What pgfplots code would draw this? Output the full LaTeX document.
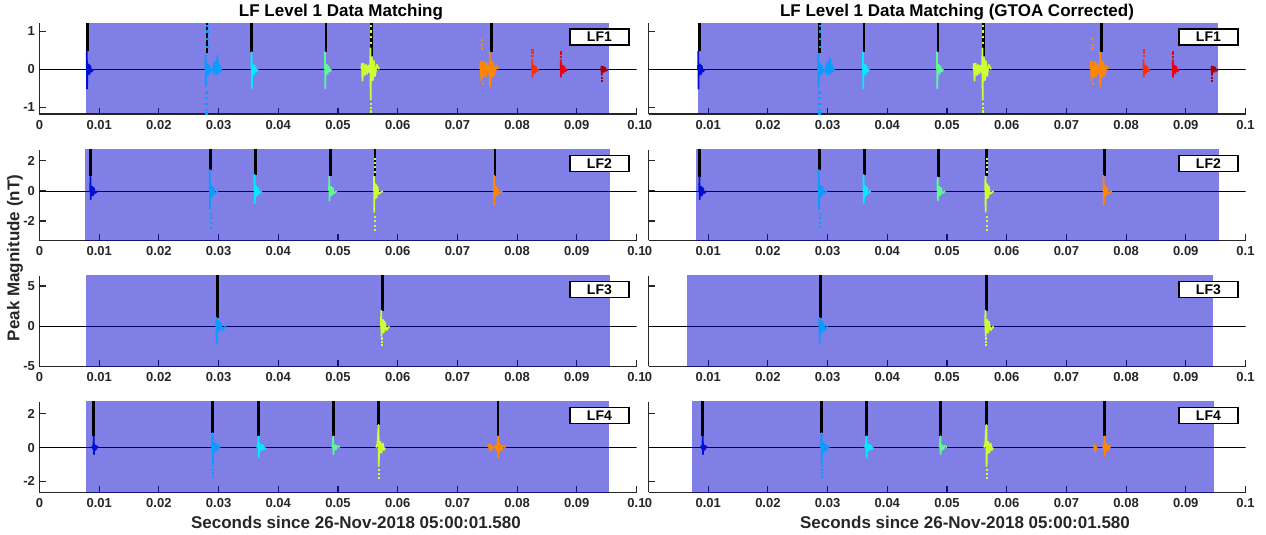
\documentclass[border=0pt]{standalone}
\usepackage{fontspec}
\setmainfont{Liberation Sans}
\usepackage{pgfplots}
\pgfplotsset{compat=1.18}
\definecolor{axgray}{RGB}{38,38,38}
\definecolor{patchblue}{RGB}{0,0,205}
\definecolor{jblue}{RGB}{0,15,215}
\definecolor{jlb}{RGB}{10,155,255}
\definecolor{jcyan}{RGB}{0,235,255}
\definecolor{jgreen}{RGB}{95,250,145}
\definecolor{jyg}{RGB}{205,255,50}
\definecolor{jorange}{RGB}{255,135,0}
\definecolor{jro}{RGB}{255,45,0}
\definecolor{jred}{RGB}{235,0,15}
\definecolor{jdred}{RGB}{170,0,10}
\tikzset{lfbox/.style={draw=black, line width=1.2pt, fill=white, minimum width=59pt, minimum height=16pt, inner sep=0pt, anchor=north east, xshift=-7pt, yshift=-5pt, font=\fontsize{14}{16}\selectfont\bfseries}}
\pgfplotsset{
  panel/.style={scale only axis, width=597pt, height=90.5pt, anchor=south west,
    xmin=0, xmax=0.1, axis x line=bottom, axis y line=left,
    axis line style={-, line width=1.2pt, color=axgray},
    tick align=inside, major tick length=6pt,
    tick style={line width=1.1pt, color=axgray},
    xtick={0,0.01,0.02,0.03,0.04,0.05,0.06,0.07,0.08,0.09,0.1},
    xticklabels={0,0.01,0.02,0.03,0.04,0.05,0.06,0.07,0.08,0.09,0.1},
    ticklabel style={font=\fontsize{13}{15}\selectfont\bfseries, color=axgray},
    xticklabel style={yshift=-2.5pt},
    yticklabel style={xshift=-1pt},
  },
  rpanel/.style={panel, yticklabels={}},
  zline/.style={black, line width=0.8pt},
  bpatch/.style={fill=patchblue, fill opacity=0.5, draw=none},
  spike/.style={black, line width=2.8pt},
  burst/.style={line width=1.7pt, line join=round},
  dots/.style={only marks, mark=square*, mark size=0.65pt},
}
\begin{document}
\begin{tikzpicture}
\useasboundingbox (0,0) rectangle (1266pt,535pt);
% ================= ROW 1 LEFT =================
\begin{axis}[panel, at={(39.5pt,421pt)}, ymin=-1.17, ymax=1.2, ytick={-1,0,1}, yticklabels={-1,0,1}]
\addplot[zline] coordinates {(0,0)(0.1,0)};
\addplot[bpatch] coordinates {(0.00782,-5)(0.00782,5)(0.09538,5)(0.09538,-5)};
\addplot[spike] coordinates {(0.00804,0.47)(0.00804,5)};
\addplot[spike] coordinates {(0.02804,0.42)(0.02804,5)};
\addplot[spike] coordinates {(0.03557,0.45)(0.03557,5)};
\addplot[spike] coordinates {(0.0480,0.45)(0.0480,5)};
\addplot[spike] coordinates {(0.0556,0.35)(0.0556,5)};
\addplot[spike] coordinates {(0.0757,0.45)(0.0757,5)};
\addplot[burst, jblue] coordinates {(0.0079,0)(0.00793,0.47)(0.00797,-0.51)(0.00803,0.13)(0.00812,-0.13)(0.00824,0.13)(0.00837,-0.13)(0.0085,0.09)(0.0087,-0.065)(0.009,0)};
\addplot[burst, jlb] coordinates {(0.0278,0)(0.02783,0.4)(0.02787,-0.45)(0.02793,0.15)(0.02802,-0.15)(0.02814,0.15)(0.02827,-0.15)(0.0284,0.1)(0.0286,-0.07)(0.0289,0)(0.0291,0)(0.02915,0.12)(0.0292,-0.12)(0.0294,0.2)(0.0296,-0.15)(0.0298,0.36)(0.03,-0.12)(0.0302,0.1)(0.0304,-0.05)(0.0305,0)};
\addplot[dots, jlb] coordinates {(0.0281,0.6)(0.0281,0.8)(0.0281,1.0)(0.0281,1.15)(0.0279,-0.6)(0.0279,-0.75)(0.0279,-0.9)(0.0279,-1.05)(0.0279,-1.15)};
\addplot[burst, jcyan] coordinates {(0.0355,0)(0.03553,0.45)(0.03557,-0.5)(0.03563,0.13)(0.03572,-0.13)(0.03584,0.13)(0.03597,-0.13)(0.0361,0.09)(0.0363,-0.065)(0.0366,0)};
\addplot[burst, jgreen] coordinates {(0.0478,0)(0.04783,0.45)(0.04787,-0.5)(0.04793,0.12)(0.04802,-0.12)(0.04814,0.12)(0.04827,-0.12)(0.0484,0.08)(0.0486,-0.06)(0.0489,0)};
\addplot[burst, jyg] coordinates {(0.0539,0)(0.054,0.15)(0.0541,-0.3)(0.0543,0.15)(0.0545,-0.15)(0.0547,0.12)(0.0549,-0.12)(0.0551,0.1)(0.0553,-0.08)(0.0554,0)(0.05543,0.55)(0.05547,-0.8)(0.05553,0.3)(0.0556,-0.3)(0.0557,0.3)(0.05585,-0.28)(0.056,0.22)(0.0562,-0.18)(0.0565,0.12)(0.0569,0)};
\addplot[dots, jyg] coordinates {(0.0555,0.7)(0.0555,0.85)(0.0555,1.0)(0.0555,1.15)(0.0555,-0.9)(0.0555,-1.0)(0.0555,-1.1)};
\addplot[burst, jorange] coordinates {(0.0738,0)(0.0739,0.2)(0.074,-0.3)(0.0742,0.2)(0.0744,-0.2)(0.0746,0.2)(0.0748,-0.18)(0.075,0.15)(0.0752,-0.1)(0.0754,0)(0.07543,0.45)(0.07547,-0.45)(0.07553,0.22)(0.0756,-0.22)(0.0757,0.22)(0.07585,-0.2)(0.076,0.18)(0.0762,-0.15)(0.0765,0.1)(0.0768,0)};
\addplot[dots, jorange] coordinates {(0.0741,0.55)(0.0741,0.65)(0.0741,0.78)(0.0742,-0.38)};
\addplot[burst, jro] coordinates {(0.0825,0)(0.08253,0.25)(0.08257,-0.2)(0.08263,0.1)(0.08272,-0.1)(0.08284,0.1)(0.08297,-0.1)(0.0831,0.07)(0.0833,-0.05)(0.0836,0)};
\addplot[dots, jro] coordinates {(0.08255,0.35)(0.08255,0.45)(0.08255,0.52)};
\addplot[burst, jred] coordinates {(0.0873,0)(0.08733,0.25)(0.08737,-0.2)(0.08743,0.1)(0.08752,-0.1)(0.08764,0.1)(0.08777,-0.1)(0.0879,0.07)(0.0881,-0.05)(0.0884,0)};
\addplot[dots, jred] coordinates {(0.08735,0.33)(0.08735,0.4)(0.08735,0.47)};
\addplot[burst, jdred] coordinates {(0.0941,0)(0.09413,0.08)(0.09417,-0.15)(0.09423,0.07)(0.09432,-0.07)(0.09444,0.07)(0.09457,-0.07)(0.0947,0.05)(0.0949,-0.04)(0.0952,0)};
\addplot[dots, jdred] coordinates {(0.09415,-0.22)(0.09415,-0.3)};
\node[lfbox] at (rel axis cs:1,1) {LF1};
\end{axis}
% ================= ROW 1 RIGHT =================
\begin{axis}[rpanel, at={(648.5pt,421pt)}, ymin=-1.17, ymax=1.2, ytick={-1,0,1}]
\addplot[zline] coordinates {(0,0)(0.1,0)};
\addplot[bpatch] coordinates {(0.00833,-5)(0.00833,5)(0.09547,5)(0.09547,-5)};
\addplot[spike] coordinates {(0.0085,0.47)(0.0085,5)};
\addplot[spike] coordinates {(0.0287,0.42)(0.0287,5)};
\addplot[spike] coordinates {(0.0361,0.45)(0.0361,5)};
\addplot[spike] coordinates {(0.0485,0.45)(0.0485,5)};
\addplot[spike] coordinates {(0.0561,0.35)(0.0561,5)};
\addplot[spike] coordinates {(0.0759,0.45)(0.0759,5)};
\addplot[burst, jblue] coordinates {(0.0083,0)(0.00833,0.47)(0.00837,-0.51)(0.00843,0.13)(0.00852,-0.13)(0.00864,0.13)(0.00877,-0.13)(0.0089,0.09)(0.0091,-0.065)(0.0094,0)};
\addplot[burst, jlb] coordinates {(0.0284,0)(0.02843,0.4)(0.02847,-0.45)(0.02853,0.15)(0.02862,-0.15)(0.02874,0.15)(0.02887,-0.15)(0.029,0.1)(0.0292,-0.07)(0.0295,0)(0.0297,0)(0.02975,0.12)(0.0298,-0.12)(0.03,0.2)(0.0302,-0.15)(0.0304,0.3)(0.0306,-0.12)(0.0308,0.1)(0.031,-0.05)(0.0311,0)};
\addplot[dots, jlb] coordinates {(0.0287,0.6)(0.0287,0.8)(0.0287,1.0)(0.0287,1.15)(0.0286,-0.6)(0.0286,-0.75)(0.0286,-0.9)(0.0286,-1.05)(0.0286,-1.15)};
\addplot[burst, jcyan] coordinates {(0.0359,0)(0.03593,0.45)(0.03597,-0.5)(0.03603,0.13)(0.03612,-0.13)(0.03624,0.13)(0.03637,-0.13)(0.0365,0.09)(0.0367,-0.065)(0.037,0)};
\addplot[burst, jgreen] coordinates {(0.0483,0)(0.04833,0.45)(0.04837,-0.5)(0.04843,0.12)(0.04852,-0.12)(0.04864,0.12)(0.04877,-0.12)(0.0489,0.08)(0.0491,-0.06)(0.0494,0)};
\addplot[burst, jyg] coordinates {(0.0544,0)(0.0545,0.15)(0.0546,-0.3)(0.0548,0.15)(0.055,-0.15)(0.0552,0.12)(0.0554,-0.12)(0.0556,0.1)(0.0558,-0.08)(0.0559,0)(0.05593,0.55)(0.05597,-0.8)(0.05603,0.3)(0.0561,-0.3)(0.0562,0.3)(0.05635,-0.28)(0.0565,0.22)(0.0567,-0.18)(0.057,0.12)(0.0574,0)};
\addplot[dots, jyg] coordinates {(0.056,0.7)(0.056,0.85)(0.056,1.0)(0.056,1.15)(0.056,-0.9)(0.056,-1.0)(0.056,-1.1)};
\addplot[burst, jorange] coordinates {(0.074,0)(0.0741,0.2)(0.0742,-0.3)(0.0744,0.2)(0.0746,-0.2)(0.0748,0.2)(0.075,-0.18)(0.0752,0.15)(0.0754,-0.1)(0.0756,0)(0.07563,0.45)(0.07567,-0.45)(0.07573,0.22)(0.0758,-0.22)(0.0759,0.22)(0.07605,-0.2)(0.0762,0.18)(0.0764,-0.15)(0.0767,0.1)(0.077,0)};
\addplot[dots, jorange] coordinates {(0.0743,0.55)(0.0743,0.65)(0.0743,0.8)(0.0744,-0.38)};
\addplot[burst, jro] coordinates {(0.0829,0)(0.08293,0.25)(0.08297,-0.2)(0.08303,0.1)(0.08312,-0.1)(0.08324,0.1)(0.08337,-0.1)(0.0835,0.07)(0.0837,-0.05)(0.084,0)};
\addplot[dots, jro] coordinates {(0.08295,0.35)(0.08295,0.45)(0.08295,0.52)};
\addplot[burst, jred] coordinates {(0.0878,0)(0.08783,0.25)(0.08787,-0.2)(0.08793,0.1)(0.08802,-0.1)(0.08814,0.1)(0.08827,-0.1)(0.0884,0.07)(0.0886,-0.05)(0.0889,0)};
\addplot[dots, jred] coordinates {(0.08785,0.33)(0.08785,0.4)(0.08785,0.47)};
\addplot[burst, jdred] coordinates {(0.0943,0)(0.09433,0.08)(0.09437,-0.15)(0.09443,0.07)(0.09452,-0.07)(0.09464,0.07)(0.09477,-0.07)(0.0949,0.05)(0.0951,-0.04)(0.0954,0)};
\addplot[dots, jdred] coordinates {(0.09435,-0.22)(0.09435,-0.3)};
\node[lfbox] at (rel axis cs:1,1) {LF1};
\end{axis}
% ================= ROW 2 LEFT =================
\begin{axis}[panel, at={(39.5pt,294.5pt)}, ymin=-3.3, ymax=2.73, ytick={-2,0,2}, yticklabels={-2,0,2}]
\addplot[zline] coordinates {(0,0)(0.1,0)};
\addplot[bpatch] coordinates {(0.0077,-9)(0.0077,9)(0.0955,9)(0.0955,-9)};
\addplot[spike] coordinates {(0.00856,0.97)(0.00856,9)};
\addplot[spike] coordinates {(0.02863,1.4)(0.02863,9)};
\addplot[spike] coordinates {(0.03616,1.08)(0.03616,9)};
\addplot[spike] coordinates {(0.0487,0.97)(0.0487,9)};
\addplot[spike] coordinates {(0.0562,0.97)(0.0562,9)};
\addplot[spike] coordinates {(0.0763,1.03)(0.0763,9)};
\addplot[burst, jblue] coordinates {(0.0085,0)(0.00853,0.95)(0.00857,-0.56)(0.00863,0.3)(0.00872,-0.3)(0.00884,0.3)(0.00897,-0.3)(0.0091,0.2)(0.0093,-0.15)(0.0097,0)};
\addplot[burst, jlb] coordinates {(0.0285,0)(0.02853,1.4)(0.02857,-1.2)(0.02863,0.35)(0.02872,-0.35)(0.02884,0.35)(0.02897,-0.35)(0.0291,0.25)(0.0293,-0.15)(0.0299,0)};
\addplot[dots, jlb] coordinates {(0.02863,-1.5)(0.02863,-1.8)(0.02863,-2.1)(0.02863,-2.45)};
\addplot[burst, jcyan] coordinates {(0.036,0)(0.03603,1.08)(0.03607,-0.83)(0.03613,0.35)(0.03622,-0.35)(0.03634,0.3)(0.03647,-0.3)(0.0366,0.2)(0.0368,-0.15)(0.0372,0)};
\addplot[burst, jgreen] coordinates {(0.0485,0)(0.04853,0.95)(0.04857,-0.65)(0.04863,0.3)(0.04872,-0.3)(0.04884,0.3)(0.04897,-0.3)(0.0491,0.2)(0.0493,-0.15)(0.0498,0)};
\addplot[burst, jyg] coordinates {(0.056,0)(0.05603,0.97)(0.05607,-1.4)(0.05613,0.5)(0.05622,-0.5)(0.05634,0.45)(0.05647,-0.45)(0.0566,0.3)(0.0568,-0.2)(0.0575,0)};
\addplot[dots, jyg] coordinates {(0.0562,1.3)(0.0562,1.6)(0.0562,1.9)(0.0562,2.15)(0.0562,-1.7)(0.0562,-2.0)(0.0562,-2.3)(0.0562,-2.6)};
\addplot[burst, jorange] coordinates {(0.0761,0)(0.07613,1.03)(0.07617,-0.94)(0.07623,0.35)(0.07632,-0.35)(0.07644,0.3)(0.07657,-0.3)(0.0767,0.2)(0.0769,-0.15)(0.0775,0)};
\node[lfbox] at (rel axis cs:1,1) {LF2};
\end{axis}
% ================= ROW 2 RIGHT =================
\begin{axis}[rpanel, at={(648.5pt,294.5pt)}, ymin=-3.3, ymax=2.73, ytick={-2,0,2}]
\addplot[zline] coordinates {(0,0)(0.1,0)};
\addplot[bpatch] coordinates {(0.0079,-9)(0.0079,9)(0.0956,9)(0.0956,-9)};
\addplot[spike] coordinates {(0.0086,0.95)(0.0086,9)};
\addplot[spike] coordinates {(0.02866,1.4)(0.02866,9)};
\addplot[spike] coordinates {(0.0362,1.07)(0.0362,9)};
\addplot[spike] coordinates {(0.0486,0.9)(0.0486,9)};
\addplot[spike] coordinates {(0.0566,0.97)(0.0566,9)};
\addplot[spike] coordinates {(0.0764,1.0)(0.0764,9)};
\addplot[burst, jblue] coordinates {(0.0085,0)(0.00853,0.95)(0.00857,-0.55)(0.00863,0.3)(0.00872,-0.3)(0.00884,0.3)(0.00897,-0.3)(0.0091,0.2)(0.0093,-0.15)(0.0097,0)};
\addplot[burst, jlb] coordinates {(0.0285,0)(0.02853,1.4)(0.02857,-1.2)(0.02863,0.35)(0.02872,-0.35)(0.02884,0.35)(0.02897,-0.35)(0.0291,0.25)(0.0293,-0.15)(0.0299,0)};
\addplot[dots, jlb] coordinates {(0.02866,-1.5)(0.02866,-1.8)(0.02866,-2.1)(0.02866,-2.4)};
\addplot[burst, jcyan] coordinates {(0.036,0)(0.03603,1.07)(0.03607,-0.82)(0.03613,0.35)(0.03622,-0.35)(0.03634,0.3)(0.03647,-0.3)(0.0366,0.2)(0.0368,-0.15)(0.0372,0)};
\addplot[burst, jgreen] coordinates {(0.0484,0)(0.04843,0.9)(0.04847,-0.64)(0.04853,0.3)(0.04862,-0.3)(0.04874,0.3)(0.04887,-0.3)(0.049,0.2)(0.0492,-0.15)(0.0497,0)};
\addplot[burst, jyg] coordinates {(0.0564,0)(0.05643,0.97)(0.05647,-1.4)(0.05653,0.5)(0.05662,-0.5)(0.05674,0.45)(0.05687,-0.45)(0.057,0.3)(0.0572,-0.2)(0.0578,0)};
\addplot[dots, jyg] coordinates {(0.0566,1.3)(0.0566,1.6)(0.0566,1.9)(0.0566,2.15)(0.0566,-1.7)(0.0566,-2.0)(0.0566,-2.3)(0.0566,-2.6)};
\addplot[burst, jorange] coordinates {(0.0762,0)(0.07623,1.0)(0.07627,-0.94)(0.07633,0.35)(0.07642,-0.35)(0.07654,0.3)(0.07667,-0.3)(0.0768,0.2)(0.077,-0.15)(0.0776,0)};
\draw[axgray, line width=1.2pt] (rel axis cs:0,0) -- (rel axis cs:0,1);
\node[lfbox] at (rel axis cs:1,1) {LF2};
\end{axis}
% ================= ROW 3 LEFT =================
\begin{axis}[panel, at={(39.5pt,168.5pt)}, ymin=-5, ymax=6.25, ytick={-5,0,5}, yticklabels={-5,0,5}]
\addplot[zline] coordinates {(0,0)(0.1,0)};
\addplot[bpatch] coordinates {(0.00774,-20)(0.00774,20)(0.0955,20)(0.0955,-20)};
\addplot[spike] coordinates {(0.0298,1.06)(0.0298,20)};
\addplot[spike] coordinates {(0.0574,1.95)(0.0574,20)};
\addplot[burst, jlb] coordinates {(0.0296,0)(0.02963,1.06)(0.02967,-2.1)(0.02973,0.7)(0.02982,-0.7)(0.02994,0.7)(0.03007,-0.7)(0.0302,0.6)(0.0306,-0.5)(0.0312,0)};
\addplot[burst, jyg] coordinates {(0.0572,0)(0.05723,1.95)(0.05727,-1.2)(0.05733,0.8)(0.05742,-0.8)(0.05754,0.8)(0.05767,-0.8)(0.0578,0.6)(0.0581,-0.5)(0.0586,0)};
\addplot[dots, jyg] coordinates {(0.0573,-1.5)(0.0573,-1.9)(0.0573,-2.3)};
\node[lfbox] at (rel axis cs:1,1) {LF3};
\end{axis}
% ================= ROW 3 RIGHT =================
\begin{axis}[rpanel, at={(648.5pt,168.5pt)}, ymin=-5, ymax=6.25, ytick={-5,0,5}]
\addplot[zline] coordinates {(0,0)(0.1,0)};
\addplot[bpatch] coordinates {(0.0065,-20)(0.0065,20)(0.0945,20)(0.0945,-20)};
\addplot[spike] coordinates {(0.0288,1.06)(0.0288,20)};
\addplot[spike] coordinates {(0.0566,1.95)(0.0566,20)};
\addplot[burst, jlb] coordinates {(0.0286,0)(0.02863,1.06)(0.02867,-2.1)(0.02873,0.7)(0.02882,-0.7)(0.02894,0.7)(0.02907,-0.7)(0.0292,0.6)(0.0295,-0.5)(0.03,0)};
\addplot[burst, jyg] coordinates {(0.0564,0)(0.05643,1.95)(0.05647,-1.2)(0.05653,0.8)(0.05662,-0.8)(0.05674,0.8)(0.05687,-0.8)(0.057,0.6)(0.0573,-0.5)(0.0578,0)};
\addplot[dots, jyg] coordinates {(0.0565,-1.5)(0.0565,-1.9)(0.0565,-2.3)};
\node[lfbox] at (rel axis cs:1,1) {LF3};
\end{axis}
% ================= ROW 4 LEFT =================
\begin{axis}[panel, at={(39.5pt,42.5pt)}, ymin=-2.66, ymax=2.7, ytick={-2,0,2}, yticklabels={-2,0,2}]
\addplot[zline] coordinates {(0,0)(0.1,0)};
\addplot[bpatch] coordinates {(0.00782,-9)(0.00782,9)(0.0954,9)(0.0954,-9)};
\addplot[spike] coordinates {(0.0091,0.67)(0.0091,9)};
\addplot[spike] coordinates {(0.029,0.86)(0.029,9)};
\addplot[spike] coordinates {(0.0367,0.67)(0.0367,9)};
\addplot[spike] coordinates {(0.0492,0.67)(0.0492,9)};
\addplot[spike] coordinates {(0.0568,1.35)(0.0568,9)};
\addplot[spike] coordinates {(0.0768,0.67)(0.0768,9)};
\addplot[burst, jblue] coordinates {(0.0088,0)(0.0089,0.1)(0.009,-0.1)(0.0091,0.67)(0.00913,-0.4)(0.0092,0.15)(0.0093,-0.15)(0.0094,0.12)(0.0095,-0.1)(0.0096,0.08)(0.0098,0)};
\addplot[burst, jlb] coordinates {(0.0288,0)(0.0289,0.15)(0.029,0.86)(0.02903,-1.1)(0.0291,0.3)(0.0292,-0.3)(0.0293,0.3)(0.0294,-0.25)(0.0296,0.2)(0.0298,-0.15)(0.03,0.1)(0.0303,0)};
\addplot[dots, jlb] coordinates {(0.029,-1.3)(0.029,-1.5)(0.029,-1.7)};
\addplot[burst, jcyan] coordinates {(0.0364,0)(0.0366,0.15)(0.0367,0.67)(0.03673,-0.6)(0.0368,0.2)(0.0369,-0.2)(0.037,0.2)(0.0372,-0.15)(0.0374,0.15)(0.0376,-0.1)(0.0379,0)};
\addplot[burst, jgreen] coordinates {(0.049,0)(0.0491,0.1)(0.0492,0.67)(0.04923,-0.4)(0.0493,0.15)(0.0494,-0.15)(0.0495,0.15)(0.0497,-0.1)(0.0499,0.1)(0.0503,0)};
\addplot[burst, jyg] coordinates {(0.0564,0)(0.0566,0.2)(0.0568,1.35)(0.05683,-1.1)(0.0569,0.35)(0.057,-0.35)(0.0571,0.35)(0.0573,-0.3)(0.0575,0.25)(0.0577,-0.15)(0.0579,0)};
\addplot[dots, jyg] coordinates {(0.0568,-1.3)(0.0568,-1.55)(0.0568,-1.8)};
\addplot[burst, jorange] coordinates {(0.0752,0)(0.0753,0.2)(0.0754,-0.2)(0.0756,0.15)(0.0758,-0.1)(0.076,0.05)(0.0762,0)(0.0764,0.1)(0.0766,-0.15)(0.0768,0.67)(0.07683,-0.6)(0.0769,0.25)(0.077,-0.25)(0.0772,0.2)(0.0774,-0.15)(0.0777,0.12)(0.0781,0)};
\node[lfbox] at (rel axis cs:1,1) {LF4};
\end{axis}
% ================= ROW 4 RIGHT =================
\begin{axis}[rpanel, at={(648.5pt,42.5pt)}, ymin=-2.66, ymax=2.7, ytick={-2,0,2}]
\addplot[zline] coordinates {(0,0)(0.1,0)};
\addplot[bpatch] coordinates {(0.0073,-9)(0.0073,9)(0.0948,9)(0.0948,-9)};
\addplot[spike] coordinates {(0.0091,0.67)(0.0091,9)};
\addplot[spike] coordinates {(0.029,0.86)(0.029,9)};
\addplot[spike] coordinates {(0.0365,0.67)(0.0365,9)};
\addplot[spike] coordinates {(0.0489,0.67)(0.0489,9)};
\addplot[spike] coordinates {(0.0566,1.35)(0.0566,9)};
\addplot[spike] coordinates {(0.0764,0.67)(0.0764,9)};
\addplot[burst, jblue] coordinates {(0.0088,0)(0.0089,0.1)(0.009,-0.1)(0.0091,0.67)(0.00913,-0.4)(0.0092,0.15)(0.0093,-0.15)(0.0094,0.12)(0.0095,-0.1)(0.0096,0.08)(0.0098,0)};
\addplot[burst, jlb] coordinates {(0.0288,0)(0.0289,0.15)(0.029,0.86)(0.02903,-1.1)(0.0291,0.3)(0.0292,-0.3)(0.0293,0.3)(0.0294,-0.25)(0.0296,0.2)(0.0298,-0.15)(0.03,0.1)(0.0303,0)};
\addplot[dots, jlb] coordinates {(0.029,-1.3)(0.029,-1.5)(0.029,-1.7)};
\addplot[burst, jcyan] coordinates {(0.0362,0)(0.0364,0.15)(0.0365,0.67)(0.03653,-0.6)(0.0366,0.2)(0.0367,-0.2)(0.0368,0.2)(0.037,-0.15)(0.0372,0.15)(0.0374,-0.1)(0.0377,0)};
\addplot[burst, jgreen] coordinates {(0.0487,0)(0.0488,0.1)(0.0489,0.67)(0.04893,-0.4)(0.049,0.15)(0.0491,-0.15)(0.0492,0.15)(0.0494,-0.1)(0.0496,0.1)(0.05,0)};
\addplot[burst, jyg] coordinates {(0.0562,0)(0.0564,0.2)(0.0566,1.35)(0.05663,-1.1)(0.0567,0.35)(0.0568,-0.35)(0.0569,0.35)(0.0571,-0.3)(0.0573,0.25)(0.0575,-0.15)(0.0577,0)};
\addplot[dots, jyg] coordinates {(0.0566,-1.3)(0.0566,-1.55)(0.0566,-1.8)};
\addplot[burst, jorange] coordinates {(0.0746,0)(0.0747,0.15)(0.0748,-0.2)(0.0749,0.12)(0.075,-0.1)(0.0752,0)};
\addplot[burst, jorange] coordinates {(0.0761,0)(0.0762,0.1)(0.0763,-0.15)(0.0764,0.67)(0.07643,-0.5)(0.0765,0.2)(0.0766,-0.2)(0.0768,0.2)(0.077,-0.15)(0.0772,0.1)(0.0774,0)};
\node[lfbox] at (rel axis cs:1,1) {LF4};
\end{axis}
% ================= TITLES AND LABELS =================
\node[font=\fontsize{17}{20}\selectfont\bfseries, color=black] at (341pt,523pt) {LF Level 1 Data Matching};
\node[font=\fontsize{17}{20}\selectfont\bfseries, color=black] at (957pt,523pt) {LF Level 1 Data Matching (GTOA Corrected)};
\node[font=\fontsize{17}{20}\selectfont\bfseries, color=axgray] at (356pt,13pt) {Seconds since 26-Nov-2018 05:00:01.580};
\node[font=\fontsize{17}{20}\selectfont\bfseries, color=axgray] at (965pt,13pt) {Seconds since 26-Nov-2018 05:00:01.580};
\node[rotate=90, font=\fontsize{17}{20}\selectfont\bfseries, color=axgray] at (15pt,277pt) {Peak Magnitude (nT)};
\end{tikzpicture}
\end{document}
